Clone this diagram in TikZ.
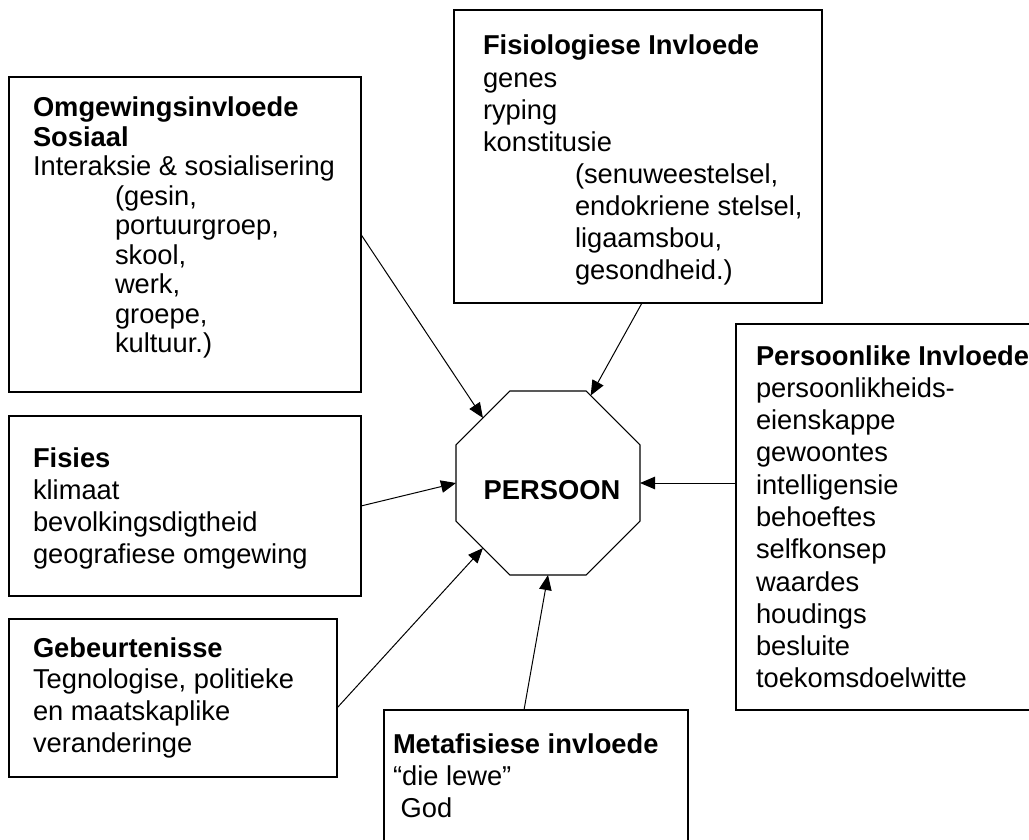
\documentclass[tikz,border=0pt]{standalone}
\usepackage{fontspec}
\setmainfont{Liberation Sans}
\usetikzlibrary{arrows.meta,shapes.geometric}
\newcommand\stackln[2]{\vtop{\baselineskip=#1\lineskiplimit=-1000pt\lineskip=0pt\relax #2}}
\begin{document}
\begin{tikzpicture}[x=1pt,y=-1pt,
  box/.style={draw, line width=1.2pt, rectangle, inner sep=0pt, outer sep=0pt, anchor=north west},
  txt/.style={inner sep=0pt, outer sep=0pt, anchor=base west, font=\fontsize{27.3pt}{32pt}\selectfont},
  arr/.style={line width=1pt, -{Triangle[length=15pt,width=12.5pt]}}]
\useasboundingbox (0,0) rectangle (1029,840);
\fill[white] (0,0) rectangle (1029,840);
\clip (0,0) rectangle (1029,840);

% boxes
\node[box, minimum width=352pt, minimum height=315pt] (omg) at (9,77) {};
\node[box, minimum width=368pt, minimum height=293pt] (fis) at (454,10) {};
\node[box, minimum width=400pt, minimum height=386pt] (pers) at (736,324) {};
\node[box, minimum width=352pt, minimum height=180pt] (fisi) at (9,416) {};
\node[box, minimum width=328pt, minimum height=158pt] (geb) at (9,619) {};
\node[box, minimum width=304pt, minimum height=200pt] (met) at (384,710) {};

% central octagon
\node[draw, line width=1.2pt, regular polygon, regular polygon sides=8,
      minimum size=199.2pt, inner sep=0pt, outer sep=0pt,
      label={[font=\bfseries\fontsize{27.3pt}{32pt}\selectfont, inner sep=0pt, xshift=4pt, yshift=-7pt]center:PERSOON}] (p) at (548,483) {};

% texts
\node[txt] (omgT) at (33,117) {\stackln{29.5pt}{%
  \hbox{\bfseries Omgewingsinvloede}%
  \hbox{\bfseries Sosiaal}%
  \hbox{Interaksie \& sosialisering}%
  \hbox{\hskip82pt(gesin,}%
  \hbox{\hskip82pt portuurgroep,}%
  \hbox{\hskip82pt skool,}%
  \hbox{\hskip82pt werk,}%
  \hbox{\hskip82pt groepe,}%
  \hbox{\hskip82pt kultuur.)}}};

\node[txt] (fisT) at (483,55) {\stackln{32.1pt}{%
  \hbox{\bfseries Fisiologiese Invloede}%
  \hbox{genes}%
  \hbox{ryping}%
  \hbox{konstitusie}%
  \hbox{\hskip92pt(senuweestelsel,}%
  \hbox{\hskip92pt endokriene stelsel,}%
  \hbox{\hskip92pt ligaamsbou,}%
  \hbox{\hskip92pt gesondheid.)}}};

\node[txt] (persT) at (756,365) {\stackln{32.3pt}{%
  \hbox{\bfseries Persoonlike Invloede}%
  \hbox{persoonlikheids-}%
  \hbox{eienskappe}%
  \hbox{gewoontes}%
  \hbox{intelligensie}%
  \hbox{behoeftes}%
  \hbox{selfkonsep}%
  \hbox{waardes}%
  \hbox{houdings}%
  \hbox{besluite}%
  \hbox{toekomsdoelwitte}}};

\node[txt] (fisiT) at (33,467) {\stackln{32pt}{%
  \hbox{\bfseries Fisies}%
  \hbox{klimaat}%
  \hbox{bevolkingsdigtheid}%
  \hbox{geografiese omgewing}}};

\node[txt] (gebT) at (33,657) {\stackln{31.7pt}{%
  \hbox{\bfseries Gebeurtenisse}%
  \hbox{Tegnologise, politieke}%
  \hbox{en maatskaplike}%
  \hbox{veranderinge}}};

\node[txt] (metT) at (393,753) {\stackln{32pt}{%
  \hbox{\bfseries Metafisiese invloede}%
  \hbox{“die lewe”}%
  \hbox{\ God}}};

% arrows
\draw[arr] (omg.east) -- (p.135);
\draw[arr] ([xshift=4pt]fis.south) -- (p.64);
\draw[arr] ([yshift=34pt]pers.west) -- (p.0);
\draw[arr] (fisi.east) -- (p.180);
\draw[arr] ([yshift=-10pt]geb.east) -- (p.225);
\draw[arr] ([xshift=-12pt]met.north) -- (p.270);
\end{tikzpicture}
\end{document}
